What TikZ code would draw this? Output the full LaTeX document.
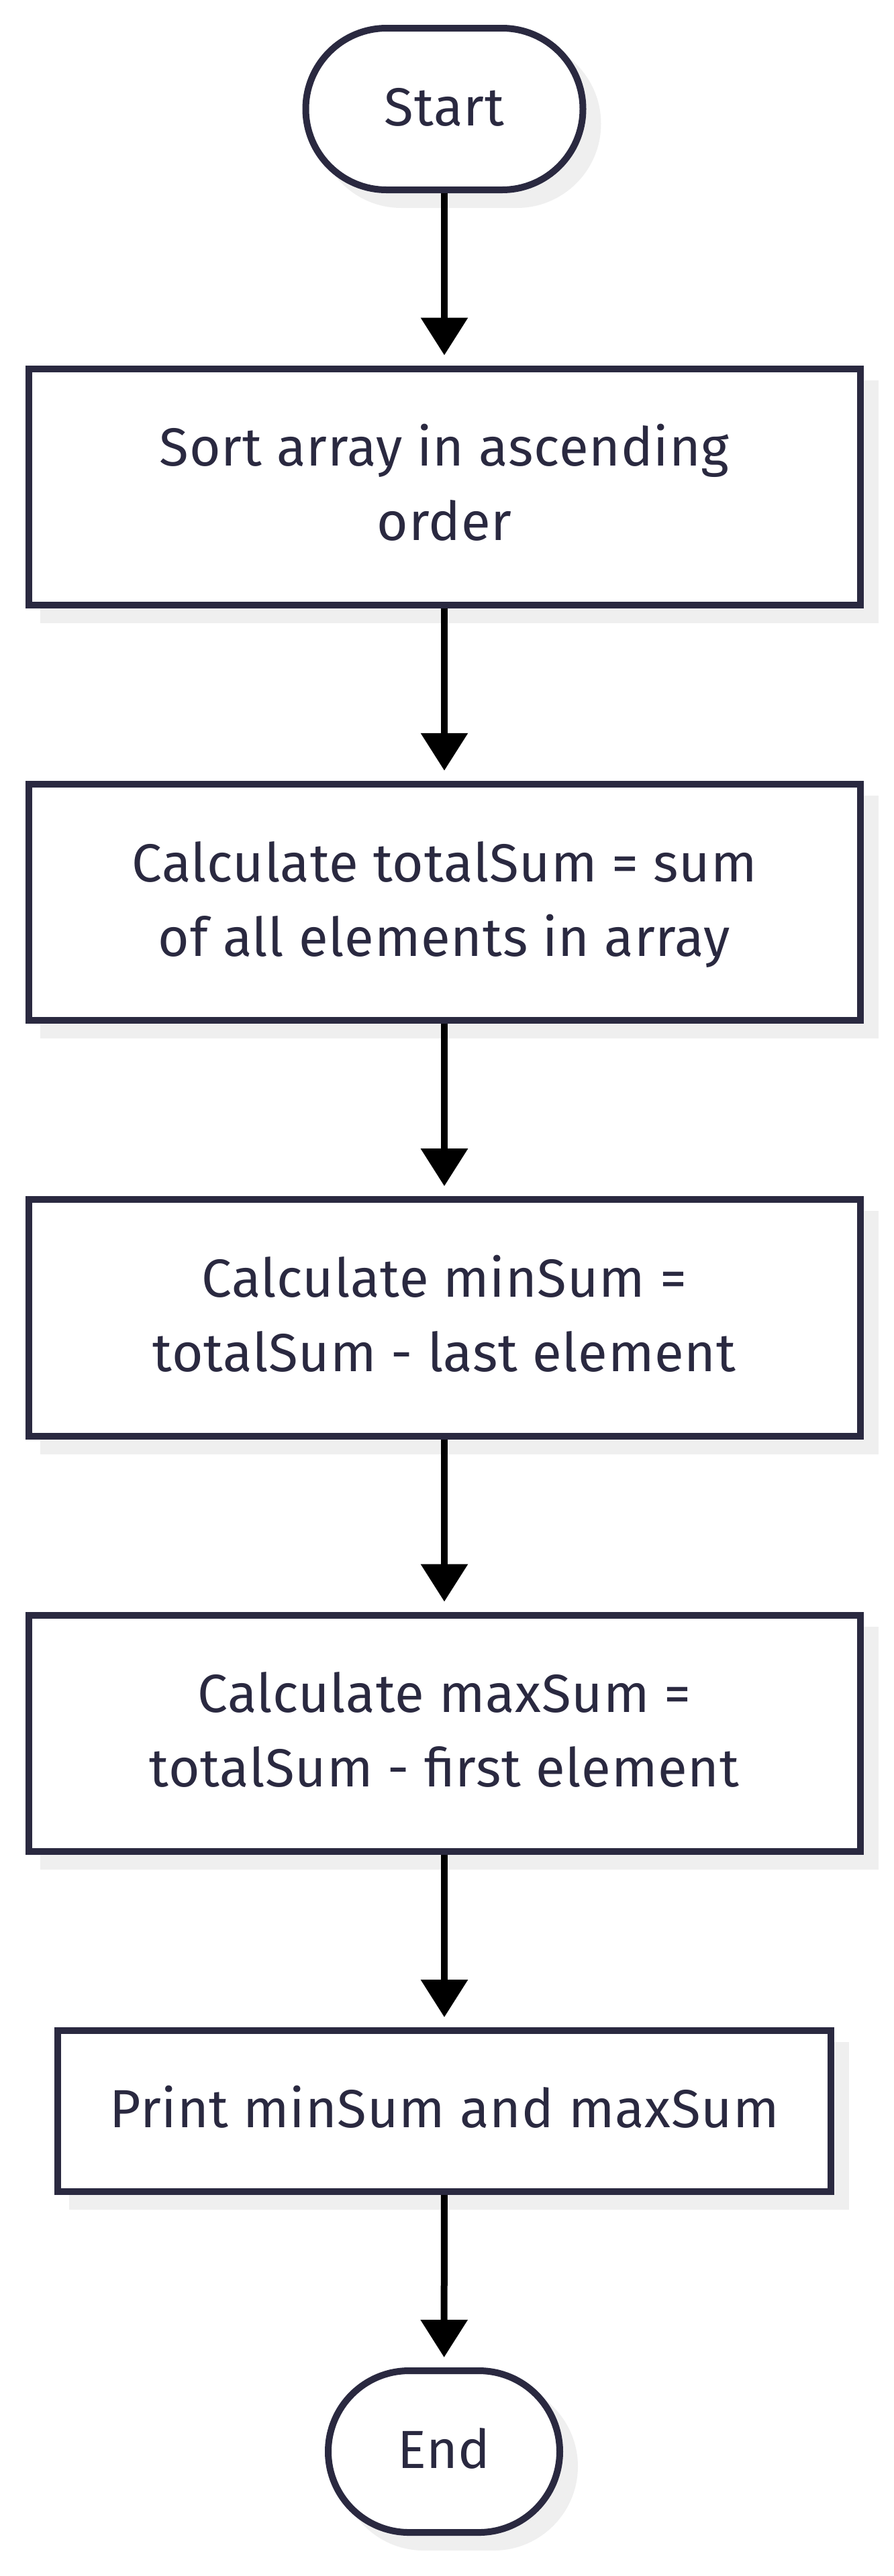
\documentclass[tikz,border=0pt]{standalone}
\usepackage{fontspec}
\setmainfont{Fira Sans}[LetterSpace=1.0]
\usetikzlibrary{arrows.meta,backgrounds}
\definecolor{ink}{RGB}{42,41,64}
\definecolor{shade}{RGB}{239,239,239}
\newcommand{\mystrut}{\rule[-15.5pt]{0pt}{55.5pt}}
\tikzset{
  base/.style={draw=ink, line width=5pt, fill=white, text=ink, align=center,
    font=\fontsize{40pt}{55.5pt}\selectfont, inner sep=0pt},
  procbox/.style={base, rectangle, minimum width=619.5pt, minimum height=176.25pt},
  printbox/.style={base, rectangle, minimum width=576pt, minimum height=120pt},
  termnode/.style={base, rectangle, rounded corners=60.25pt, minimum height=120.5pt},
  arr/.style={draw=black, line width=5pt, -{Triangle[length=28pt,width=34pt]}, shorten >=7.5pt},
  shadowfill/.style={fill=shade}
}
\begin{document}
\begin{tikzpicture}
\useasboundingbox (0,0) rectangle (666pt,-1920pt);
\node[termnode, minimum width=206.5pt] (start) at (331pt,-81.25pt) {\mystrut Start};
\node[procbox] (b1) at (331pt,-362.9pt) {\mystrut Sort array in ascending\\\mystrut order};
\node[procbox] (b2) at (331pt,-672.5pt) {\mystrut Calculate totalSum = sum\\\mystrut of all elements in array};
\node[procbox] (b3) at (331pt,-982.2pt) {\mystrut Calculate minSum =\\\mystrut totalSum - last element};
\node[procbox] (b4) at (331pt,-1291.9pt) {\mystrut Calculate maxSum =\\\mystrut totalSum - first element};
\node[printbox] (b5) at (331pt,-1573.5pt) {\mystrut Print minSum and maxSum};
\node[termnode, minimum width=172.5pt] (end) at (330.75pt,-1827.25pt) {\mystrut End};
\begin{scope}[on background layer]
  \foreach \n in {b1,b2,b3,b4,b5}
    \fill[shadowfill] ([shift={(11pt,-11pt)}]\n.north west) rectangle ([shift={(11pt,-11pt)}]\n.south east);
  \foreach \n in {start,end}
    \fill[shadowfill, rounded corners=62.75pt] ([shift={(11pt,-11pt)}]\n.north west) rectangle ([shift={(11pt,-11pt)}]\n.south east);
\end{scope}
\draw[arr] (start) -- (b1);
\draw[arr] (b1) -- (b2);
\draw[arr] (b2) -- (b3);
\draw[arr] (b3) -- (b4);
\draw[arr] (b4) -- (b5);
\draw[arr] (b5) -- (end);
\end{tikzpicture}
\end{document}
